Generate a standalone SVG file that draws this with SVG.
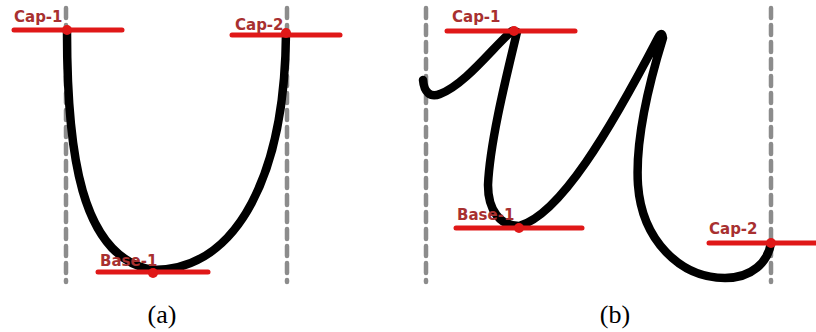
<svg xmlns="http://www.w3.org/2000/svg" width="816" height="332" viewBox="0 0 816 332">
<style>
.guide{stroke:#8c8c8c;stroke-width:4.5;stroke-dasharray:10 7;stroke-linecap:round;fill:none}
.ink{stroke:#000;stroke-width:8.5;fill:none;stroke-linecap:round;stroke-linejoin:round}
.mark{stroke:#e01818;stroke-width:5;stroke-linecap:round}
.dot{fill:#e01818}
.lbl{font-family:"DejaVu Sans",sans-serif;font-weight:bold;font-size:15px;fill:#a83030}
.cap{font-family:"Liberation Serif",serif;font-size:26px;fill:#000;text-anchor:middle}
</style>
<rect width="816" height="332" fill="#fff"/>
<g id="panel-a">
<line class="guide" x1="66" y1="8" x2="66" y2="282"/>
<line class="guide" x1="287" y1="8" x2="287" y2="282"/>
<path class="ink" d="M67,32 C67,150 80,258 153,270 C240,270 285,170 286,33"/>
<g id="a-cap1"><line class="mark" x1="14" y1="30" x2="122" y2="30"/><circle class="dot" cx="67" cy="30" r="5"/><text class="lbl" x="14" y="22">Cap-1</text></g>
<g id="a-cap2"><line class="mark" x1="232" y1="35" x2="340" y2="35"/><circle class="dot" cx="286" cy="33" r="5"/><text class="lbl" x="235" y="30">Cap-2</text></g>
<g id="a-base1"><line class="mark" x1="98" y1="272" x2="208" y2="272"/><circle class="dot" cx="153" cy="273" r="5"/><text class="lbl" x="100" y="266">Base-1</text></g>
<text class="cap" x="162" y="323">(a)</text>
</g>
<g id="panel-b">
<line class="guide" x1="426" y1="8" x2="426" y2="282"/>
<line class="guide" x1="771" y1="8" x2="771" y2="282"/>
<path class="ink" d="M423,80 C424,92 430,98 440,94 C465,85 495,45 512,31 M517,32 C508,70 490,140 488,185 C488,210 500,226 519,226 C560,215 610,130 658,38 Q662,30 663,38 C650,80 635,140 638,185 C642,240 680,278 725,278 C752,278 768,262 771,243"/>
<g id="b-cap1"><line class="mark" x1="447" y1="31" x2="575" y2="31"/><circle class="dot" cx="514" cy="31" r="5"/><text class="lbl" x="452" y="22">Cap-1</text></g>
<g id="b-base1"><line class="mark" x1="456" y1="228" x2="582" y2="228"/><circle class="dot" cx="519" cy="228" r="5"/><text class="lbl" x="457" y="220">Base-1</text></g>
<g id="b-cap2"><line class="mark" x1="709" y1="243" x2="816" y2="243"/><circle class="dot" cx="771" cy="243" r="5"/><text class="lbl" x="709" y="234">Cap-2</text></g>
<text class="cap" x="615" y="323">(b)</text>
</g>
</svg>
